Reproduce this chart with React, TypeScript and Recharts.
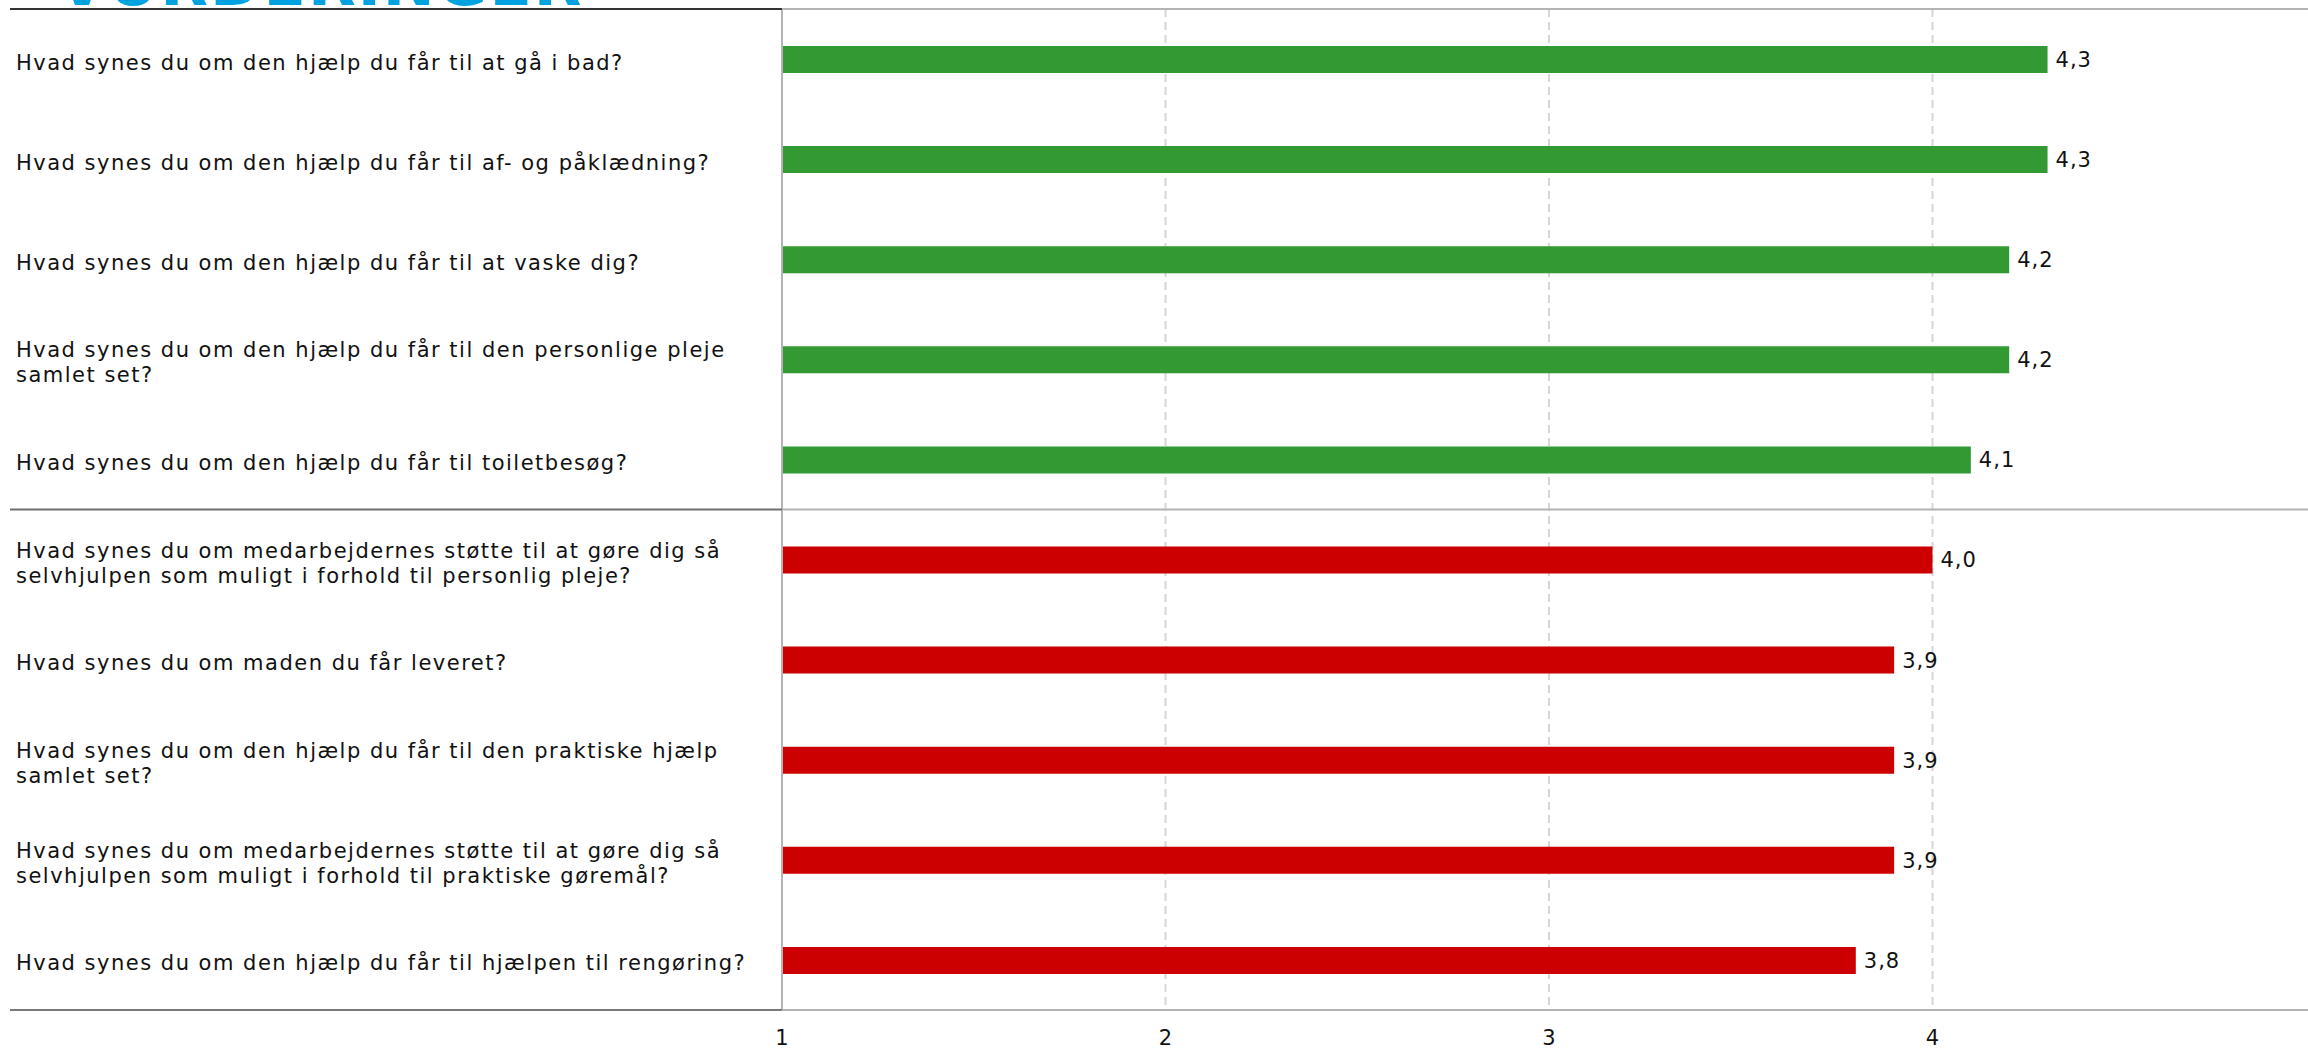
import React from 'react';
import {
  BarChart,
  Bar,
  XAxis,
  YAxis,
  CartesianGrid,
  Cell,
  LabelList,
} from 'recharts';

const questions = [
  'Hvad synes du om den hjælp du får til at gå i bad?',
  'Hvad synes du om den hjælp du får til af- og påklædning?',
  'Hvad synes du om den hjælp du får til at vaske dig?',
  'Hvad synes du om den hjælp du får til den personlige pleje\nsamlet set?',
  'Hvad synes du om den hjælp du får til toiletbesøg?',
  'Hvad synes du om medarbejdernes støtte til at gøre dig så\nselvhjulpen som muligt i forhold til personlig pleje?',
  'Hvad synes du om maden du får leveret?',
  'Hvad synes du om den hjælp du får til den praktiske hjælp\nsamlet set?',
  'Hvad synes du om medarbejdernes støtte til at gøre dig så\nselvhjulpen som muligt i forhold til praktiske gøremål?',
  'Hvad synes du om den hjælp du får til hjælpen til rengøring?',
];

const scores = [4.3, 4.3, 4.2, 4.2, 4.1, 4.0, 3.9, 3.9, 3.9, 3.8];

// which half of the list each question belongs to
const groups = ['top', 'top', 'top', 'top', 'top', 'bottom', 'bottom', 'bottom', 'bottom', 'bottom'];

const scaleTicks = [1, 2, 3, 4, 5];

const title = 'VURDERINGER';

const GROUP_COLORS: Record<string, string> = {
  top: '#339933',
  bottom: '#cc0000',
};

const FONT = '"DejaVu Sans", Verdana, sans-serif';
const CHART_W = 2340;
const CHART_H = 1048;
const MARGIN = { top: 9, right: 24, bottom: 0, left: 0 };
const Y_AXIS_W = 782;
const X_AXIS_H = 38;
const BAND = (CHART_H - MARGIN.top - MARGIN.bottom - X_AXIS_H) / questions.length;
const LABEL_X = 16;
const LINE_GAP = 25;

const data = questions.map((q, i) => ({
  question: q,
  value: scores[i],
  group: groups[i],
}));

const fmt = (v: number) => v.toFixed(1).replace('.', ',');

function FrameLine({ y, dark }: { y: number; dark: string }) {
  return (
    <g>
      <line x1={10} x2={Y_AXIS_W} y1={y} y2={y} stroke={dark} strokeWidth={2} />
      <line x1={Y_AXIS_W} x2={CHART_W} y1={y} y2={y} stroke="#b4b4b4" strokeWidth={2} />
    </g>
  );
}

function QuestionTick(props: any) {
  const { y, payload, index } = props;
  const lines = String(payload.value).split('\n');
  const top = y - BAND / 2;
  const bottom = y + BAND / 2;
  const newGroup = index > 0 && groups[index] !== groups[index - 1];
  return (
    <g>
      {index === 0 && <FrameLine y={top} dark="#333333" />}
      {newGroup && <FrameLine y={top} dark="#6e6e6e" />}
      {index === questions.length - 1 && <FrameLine y={bottom} dark="#7a7a7a" />}
      <text
        x={LABEL_X}
        fill="#111"
        fontSize={21}
        fontFamily={FONT}
        letterSpacing={1.5}
        textAnchor="start"
      >
        {lines.map((ln, i) => (
          <tspan key={i} x={LABEL_X} y={y + 10.5 + (i - (lines.length - 1) / 2) * LINE_GAP}>
            {ln}
          </tspan>
        ))}
      </text>
    </g>
  );
}

function ScaleTick(props: any) {
  const { x, payload } = props;
  return (
    <text
      x={x}
      y={CHART_H - 3}
      textAnchor="middle"
      fill="#111"
      fontSize={21}
      fontFamily={FONT}
    >
      {payload.value}
    </text>
  );
}

export default function App() {
  return (
    <div
      style={{
        position: 'absolute',
        top: 0,
        left: 0,
        width: 2308,
        height: 1048,
        overflow: 'hidden',
        background: '#fff',
      }}
    >
      <svg width={2308} height={20} style={{ position: 'absolute', top: 0, left: 0 }}>
        <text
          x={58}
          y={5}
          fill="#00a3e0"
          fontSize={62}
          fontWeight="bold"
          fontFamily={FONT}
          letterSpacing={2}
        >
          {title}
        </text>
      </svg>
      <BarChart
        width={CHART_W}
        height={CHART_H}
        data={data}
        layout="vertical"
        margin={MARGIN}
        style={{ position: 'absolute', top: 0, left: 0 }}
      >
        <CartesianGrid
          horizontal={false}
          stroke="#d6d6d6"
          strokeWidth={2}
          strokeDasharray="8 5"
        />
        <XAxis
          type="number"
          domain={[1, 5]}
          ticks={scaleTicks}
          height={X_AXIS_H}
          axisLine={false}
          tickLine={false}
          tick={<ScaleTick />}
          allowDataOverflow
        />
        <YAxis
          type="category"
          dataKey="question"
          width={Y_AXIS_W}
          axisLine={{ stroke: '#b4b4b4', strokeWidth: 2 }}
          tickLine={false}
          tick={<QuestionTick />}
          interval={0}
        />
        <Bar dataKey="value" barSize={27} isAnimationActive={false}>
          {data.map((d, i) => (
            <Cell key={i} fill={GROUP_COLORS[d.group]} />
          ))}
          <LabelList
            dataKey="value"
            position="right"
            offset={8}
            formatter={(v: any) => fmt(Number(v))}
            fill="#111"
            fontSize={21}
            fontFamily={FONT}
            letterSpacing={1}
          />
        </Bar>
      </BarChart>
    </div>
  );
}
